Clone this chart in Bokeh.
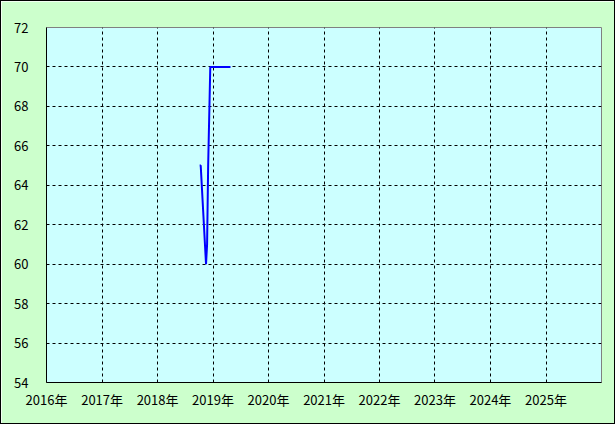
from datetime import datetime
from bokeh.plotting import figure
from bokeh.models import FixedTicker, CustomJSTickFormatter, Range1d, ColumnDataSource
from bokeh.embed import file_html
from bokeh.resources import INLINE

# weekly values
dates = ["2018-10-05", "2018-10-12", "2018-10-19", "2018-10-26", "2018-11-02",
         "2018-11-09", "2018-11-16", "2018-11-23", "2018-11-30", "2018-12-07",
         "2018-12-14", "2018-12-21", "2018-12-28", "2019-01-04", "2019-01-11",
         "2019-01-18", "2019-01-25", "2019-02-01", "2019-02-08", "2019-02-15",
         "2019-02-22", "2019-03-01", "2019-03-08", "2019-03-15", "2019-03-22",
         "2019-03-29", "2019-04-05", "2019-04-12", "2019-04-19", "2019-04-26"]
values = [65, 65, 64, 63, 62, 61, 60, 61, 65, 67.5,
          70, 70, 70, 70, 70, 70, 70, 70, 70, 70,
          70, 70, 70, 70, 70, 70, 70, 70, 70, 70]
years = list(range(2016, 2026))
y_ticks = list(range(54, 73, 2))

def ms(d):
    return (d - datetime(1970, 1, 1)).total_seconds() * 1000.0

xs = [datetime.strptime(d, "%Y-%m-%d") for d in dates]
src = ColumnDataSource(data=dict(x=xs, y=values))

p = figure(width=615, height=424, x_axis_type="datetime",
           output_backend="svg", toolbar_location=None,
           x_range=Range1d(datetime(2016, 1, 1), datetime(2026, 1, 1)),
           y_range=Range1d(54, 72),
           min_border_left=45, min_border_right=15, min_border_top=26, min_border_bottom=43)
p.styles = {"border": "1px solid black", "box-sizing": "border-box"}

p.background_fill_color = "#ccffff"
p.border_fill_color = "#ccffcc"
p.outline_line_color = "#808080"
p.outline_line_width = 1

p.line("x", "y", source=src, line_color="#0000ff", line_width=2)

p.xaxis.ticker = FixedTicker(ticks=[ms(datetime(y, 1, 1)) for y in years])
p.xaxis.formatter = CustomJSTickFormatter(code='return new Date(tick).getUTCFullYear() + "年";')
p.yaxis.ticker = FixedTicker(ticks=y_ticks)

for ax in (p.xaxis[0], p.yaxis[0]):
    ax.axis_line_color = "black"
    ax.axis_line_width = 1
    ax.major_tick_line_color = None
    ax.minor_tick_line_color = None
    ax.major_label_text_font = "Noto Sans CJK JP"
    ax.major_label_text_font_size = "13px"
    ax.major_label_text_color = "black"

p.xaxis.major_label_standoff = 1
p.yaxis.major_label_standoff = 12

for g in (p.xgrid[0], p.ygrid[0]):
    g.grid_line_color = "black"
    g.grid_line_dash = "3 3"
    g.grid_line_width = 1

open("out.html", "w").write(file_html(p, INLINE))
